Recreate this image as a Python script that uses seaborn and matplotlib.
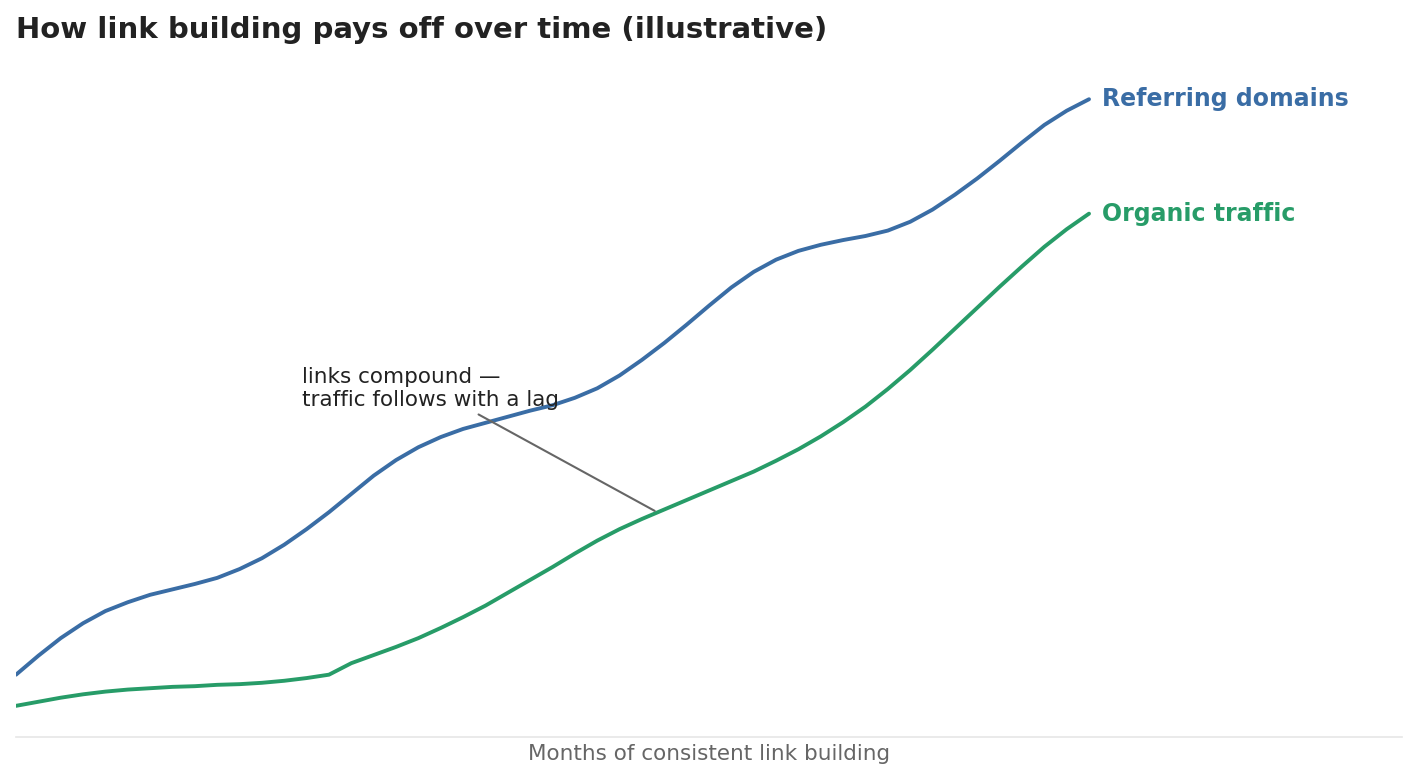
import numpy as np
import pandas as pd
import seaborn as sns
import matplotlib.pyplot as plt

# DATA (illustrative index)
months = [i * 0.5 for i in range(49)]

referring_domains = [9.2, 12.0, 14.6, 16.8, 18.6, 19.9, 21.0, 21.8, 22.6, 23.5,
                     24.8, 26.4, 28.4, 30.7, 33.2, 35.9, 38.6, 40.9, 42.8, 44.3,
                     45.5, 46.4, 47.3, 48.2, 49.0, 50.1, 51.5, 53.4, 55.7, 58.2,
                     60.9, 63.7, 66.4, 68.7, 70.5, 71.8, 72.7, 73.4, 74.0, 74.8,
                     76.1, 77.9, 80.1, 82.5, 85.1, 87.8, 90.4, 92.5, 94.2]

organic_traffic = [4.6, 5.2, 5.8, 6.3, 6.7, 7.0, 7.2, 7.4, 7.5, 7.7,
                   7.8, 8.0, 8.3, 8.7, 9.2, 10.9, 12.1, 13.3, 14.6, 16.1,
                   17.7, 19.4, 21.3, 23.2, 25.1, 27.1, 29.0, 30.7, 32.2, 33.6,
                   35.0, 36.4, 37.8, 39.2, 40.8, 42.5, 44.4, 46.5, 48.8, 51.4,
                   54.2, 57.2, 60.3, 63.4, 66.5, 69.5, 72.4, 75.0, 77.3]

series_names = ['Referring domains', 'Organic traffic']
colors = {'Referring domains': '#3a6da5', 'Organic traffic': '#279c68'}

df = pd.DataFrame({'MONTH': months * 2,
                   'VALUE': referring_domains + organic_traffic,
                   'SERIES': [series_names[0]] * len(months) + [series_names[1]] * len(months)})

sns.set_theme(style='white')
plt.rcParams['font.family'] = ['DejaVu Sans']

fig = plt.figure(figsize=(14.18, 7.84), dpi=100)
ax = fig.add_axes([0.0113, 0.06, 0.9774, 0.8635])

sns.lineplot(data=df, x='MONTH', y='VALUE', hue='SERIES', palette=colors,
             linewidth=2.8, legend=False, ax=ax, solid_joinstyle='round')

ax.set_xlim(0, 31)
ax.set_ylim(0, 100)
ax.set_xticks([])
ax.set_yticks([])
ax.set_ylabel('')
ax.set_xlabel('Months of consistent link building', fontsize=15.5, color='#666666', labelpad=5)
for s in ['top', 'right', 'left']:
    ax.spines[s].set_visible(False)
ax.spines['bottom'].set_color('#e6e6e6')
ax.spines['bottom'].set_linewidth(1.2)

# end labels
ax.text(months[-1] + 0.3, referring_domains[-1], 'Referring domains', color=colors['Referring domains'],
        fontsize=17, fontweight='bold', va='center', ha='left')
ax.text(months[-1] + 0.3, organic_traffic[-1], 'Organic traffic', color=colors['Organic traffic'],
        fontsize=17, fontweight='bold', va='center', ha='left')

# annotation
ax.annotate('links compound —\ntraffic follows with a lag',
            xy=(14.34, 33.2), xytext=(6.4, 54.7),
            ha='left', va='top', fontsize=15.5, color='#222222',
            arrowprops=dict(arrowstyle='-', color='#666666', lw=1.5), zorder=5)

fig.text(0.0113, 0.962, 'How link building pays off over time (illustrative)',
         fontsize=21, fontweight='bold', color='#222222', ha='left', va='center')

plt.savefig('out.png', dpi=100)
